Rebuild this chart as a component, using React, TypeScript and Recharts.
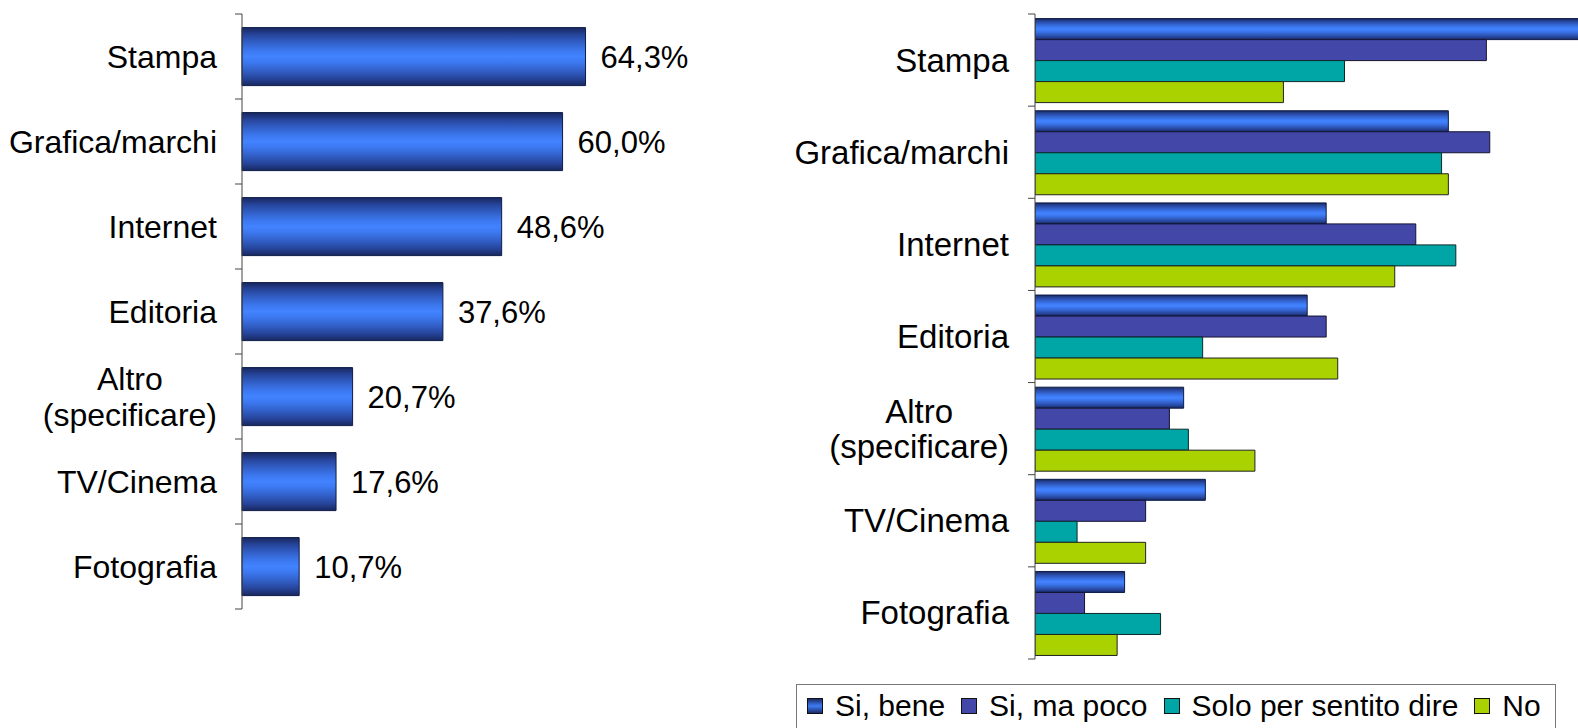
import { Bar, BarChart, LabelList, XAxis, YAxis } from "recharts";

// categorie (stesso ordine nei due grafici)
const categories = [
  "Stampa",
  "Grafica/marchi",
  "Internet",
  "Editoria",
  "Altro\n(specificare)",
  "TV/Cinema",
  "Fotografia",
];

// grafico di sinistra: totale %
const totalPct = [64.3, 60.0, 48.6, 37.6, 20.7, 17.6, 10.7];

// grafico di destra: per grado di conoscenza
const seriesNames = ["Si, bene", "Si, ma poco", "Solo per sentito dire", "No"];
const siBene = [84, 60.9, 42.9, 40.1, 21.9, 25.1, 13.2];
const siMaPoco = [66.5, 67.0, 56.1, 42.9, 19.8, 16.3, 7.3];
const soloSentito = [45.6, 59.9, 62.0, 24.7, 22.6, 6.2, 18.5];
const no = [36.6, 60.9, 53.0, 44.6, 32.4, 16.3, 12.1];

const FONT = "'Liberation Sans', Arial, sans-serif";
const AXIS = "#444";

const leftData = categories.map((name, i) => ({ name, total: totalPct[i] }));
const rightData = categories.map((name, i) => ({
  name,
  s0: siBene[i],
  s1: siMaPoco[i],
  s2: soloSentito[i],
  s3: no[i],
}));

const seriesStyle = [
  { key: "s0", fill: "url(#blueBarV)", stroke: "#0d1c48", swatch: "linear-gradient(to bottom,#1a2b66,#3f7cf5,#1a2b66)" },
  { key: "s1", fill: "#4347a8", stroke: "#141433", swatch: "#4347a8" },
  { key: "s2", fill: "#00a6a6", stroke: "#0b2a2a", swatch: "#00a6a6" },
  { key: "s3", fill: "#aad200", stroke: "#222", swatch: "#aad200" },
];

let ctx: CanvasRenderingContext2D | null = null;
function textWidth(s: string, font: string) {
  if (!ctx) ctx = document.createElement("canvas").getContext("2d");
  if (!ctx) return s.length * 15;
  ctx.font = font;
  return ctx.measureText(s).width;
}

// etichette centrate (anche su due righe) + tacche ai bordi delle categorie
function makeTick(gap: number, fontSize: number, band: number, lineH: number) {
  const last = categories[categories.length - 1];
  return (props: any) => {
    const { x, y, payload } = props;
    const lines = String(payload.value).split("\n");
    const font = `${fontSize}px ${FONT}`;
    const widest = Math.max(...lines.map((l) => textWidth(l, font)));
    const cx = x - gap - widest / 2;
    return (
      <g>
        <line x1={x} x2={x - 7} y1={y - band / 2} y2={y - band / 2} stroke={AXIS} />
        {payload.value === last && (
          <line x1={x} x2={x - 7} y1={y + band / 2} y2={y + band / 2} stroke={AXIS} />
        )}
        <text textAnchor="middle" fontSize={fontSize} fontFamily={FONT} fill="#000">
          {lines.map((l, i) => (
            <tspan key={i} x={cx} y={y + (i - (lines.length - 1) / 2) * lineH} dy="0.35em">
              {l}
            </tspan>
          ))}
        </text>
      </g>
    );
  };
}

function BlueGradient({ id }: { id: string }) {
  return (
    <linearGradient id={id} x1="0" y1="0" x2="0" y2="1">
      <stop offset="0%" stopColor="#18275e" />
      <stop offset="12%" stopColor="#26449a" />
      <stop offset="26%" stopColor="#3260c8" />
      <stop offset="40%" stopColor="#3c78f0" />
      <stop offset="50%" stopColor="#4283ff" />
      <stop offset="60%" stopColor="#3c78f0" />
      <stop offset="74%" stopColor="#3260c8" />
      <stop offset="88%" stopColor="#26449a" />
      <stop offset="100%" stopColor="#18275e" />
    </linearGradient>
  );
}

function LeftChart() {
  return (
    <BarChart
      width={700}
      height={728}
      data={leftData}
      layout="vertical"
      margin={{ top: 14, right: 84, bottom: 119, left: 0 }}
      barCategoryGap="16%"
    >
      <defs>
        <BlueGradient id="blueBarL" />
      </defs>
      <XAxis type="number" domain={[0, 70]} hide />
      <YAxis
        type="category"
        dataKey="name"
        width={242}
        tickSize={0}
        tickMargin={0}
        tickLine={false}
        axisLine={{ stroke: AXIS }}
        interval={0}
        tick={makeTick(25, 32, 85, 36)}
      />
      <Bar dataKey="total" fill="url(#blueBarL)" stroke="#0d1c48" strokeWidth={1} isAnimationActive={false}>
        <LabelList
          dataKey="total"
          position="right"
          offset={15}
          formatter={(v: any) => Number(v).toFixed(1).replace(".", ",") + "%"}
          style={{ fontSize: 31, fontFamily: FONT, fill: "#000" }}
        />
      </Bar>
    </BarChart>
  );
}

function RightChart() {
  return (
    <BarChart
      width={818}
      height={728}
      data={rightData}
      layout="vertical"
      margin={{ top: 14, right: 0, bottom: 69, left: 0 }}
      barCategoryGap="5%"
      barGap={0}
    >
      <defs>
        <BlueGradient id="blueBarV" />
      </defs>
      <XAxis type="number" domain={[0, 80]} allowDataOverflow hide />
      <YAxis
        type="category"
        dataKey="name"
        width={275}
        tickSize={0}
        tickMargin={0}
        tickLine={false}
        axisLine={{ stroke: AXIS }}
        interval={0}
        tick={makeTick(26, 33, 92.14, 35)}
      />
      {seriesStyle.map((s, i) => (
        <Bar
          key={s.key}
          dataKey={s.key}
          name={seriesNames[i]}
          fill={s.fill}
          stroke={s.stroke}
          strokeWidth={1}
          isAnimationActive={false}
        />
      ))}
    </BarChart>
  );
}

function LegendBox() {
  return (
    <div
      style={{
        position: "absolute",
        left: 36,
        top: 684,
        width: 760,
        height: 47,
        border: "1px solid #777",
        display: "flex",
        alignItems: "center",
        paddingLeft: 10,
        paddingBottom: 3,
        boxSizing: "border-box",
        fontFamily: FONT,
        fontSize: 30,
        color: "#000",
        whiteSpace: "nowrap",
      }}
    >
      {seriesNames.map((n, i) => (
        <div key={n} style={{ display: "flex", alignItems: "center", marginRight: 16 }}>
          <span
            style={{
              display: "inline-block",
              width: 14,
              height: 14,
              background: seriesStyle[i].swatch,
              border: "1px solid #111",
              marginRight: 12,
            }}
          />
          <span>{n}</span>
        </div>
      ))}
    </div>
  );
}

export default function App() {
  return (
    <div style={{ position: "relative", width: 1578, height: 728, overflow: "hidden", background: "#fff" }}>
      <style>{"body{margin:0}"}</style>
      <div style={{ position: "absolute", left: 0, top: 0 }}>
        <LeftChart />
      </div>
      <div style={{ position: "absolute", left: 760, top: 0, width: 818, height: 728 }}>
        <RightChart />
        <LegendBox />
      </div>
    </div>
  );
}
